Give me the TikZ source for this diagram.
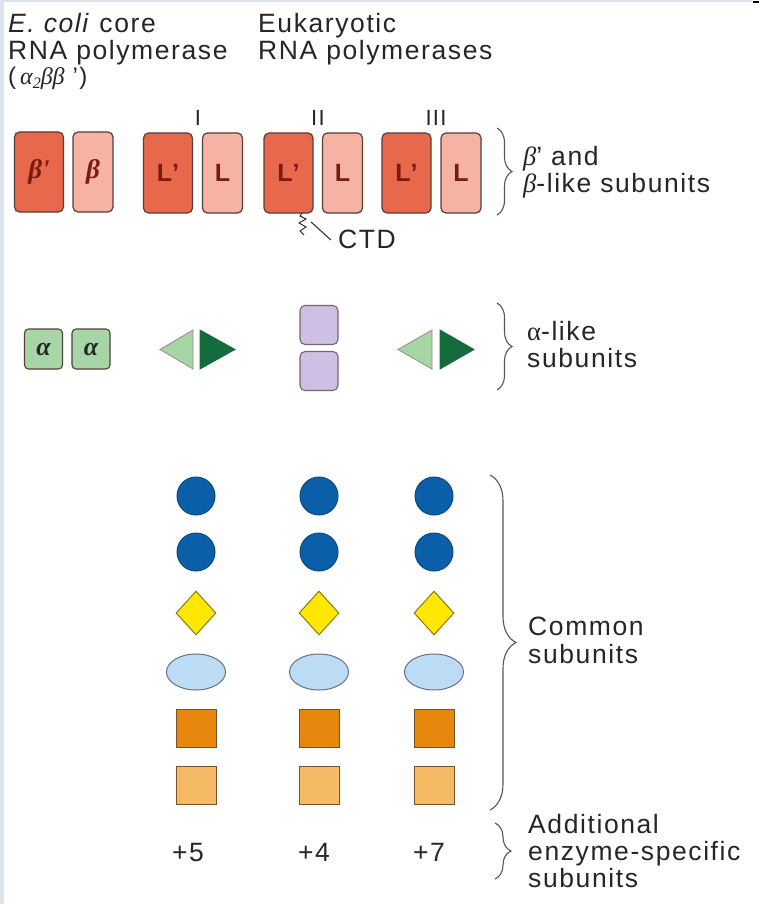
\documentclass[tikz,border=0pt]{standalone}
\usepackage{fontspec}
\setmainfont{Liberation Sans}[LetterSpace=6]
\newfontfamily\gk{Liberation Serif}
\usetikzlibrary{shapes.geometric,decorations.pathreplacing}
\definecolor{redD}{HTML}{E8684C}
\definecolor{redL}{HTML}{F6B3A3}
\definecolor{boxline}{HTML}{5A3C38}
\definecolor{lblred}{HTML}{7A1A10}
\definecolor{grA}{HTML}{A6D6A6}
\definecolor{grD}{HTML}{146C3C}
\definecolor{purp}{HTML}{CEC0E4}
\definecolor{blueC}{HTML}{0B5EA8}
\definecolor{blueB}{HTML}{0A4A86}
\definecolor{yel}{HTML}{FFE700}
\definecolor{yelB}{HTML}{8A7A10}
\definecolor{ellB}{HTML}{BCDCF6}
\definecolor{ellE}{HTML}{66708A}
\definecolor{orD}{HTML}{E8870E}
\definecolor{orL}{HTML}{F6B964}
\definecolor{orB}{HTML}{7A5228}
\definecolor{txt}{HTML}{262626}
\definecolor{brc}{HTML}{555555}
\definecolor{edgeC}{HTML}{DCE5EF}
\newcommand\sbs[1]{\raisebox{-4pt}{\fontsize{16}{16}\selectfont #1}}
\begin{document}
\begin{tikzpicture}[x=1pt,y=-1pt,
  lbl/.style={font=\fontsize{26.5}{28}\selectfont, text=txt, anchor=base west, inner sep=0pt},
  num/.style={font=\fontsize{22}{24}\selectfont, text=txt, inner sep=0pt},
  boxD/.style={draw=boxline, fill=redD, rounded corners=5pt, minimum width=49pt, minimum height=80pt, inner sep=0pt, line width=1.2pt, text=lblred, font=\fontsize{25}{25}\selectfont\bfseries},
  boxL/.style={boxD, fill=redL, minimum width=40pt},
  abox/.style={draw=boxline, fill=grA, rounded corners=4pt, minimum width=38pt, minimum height=40pt, inner sep=0pt, line width=1.1pt, text=txt},
  pbox/.style={draw=boxline!70!purp, fill=purp, rounded corners=5pt, minimum width=38pt, minimum height=39pt, inner sep=0pt, line width=1.1pt},
  circ/.style={circle, draw=blueB, fill=blueC, minimum size=38pt, inner sep=0pt, line width=1pt},
  dia/.style={diamond, draw=yelB, fill=yel, minimum width=40pt, minimum height=44pt, inner sep=0pt, line width=1pt},
  ell/.style={ellipse, draw=ellE, fill=ellB, minimum width=59pt, minimum height=36pt, inner sep=0pt, line width=1pt},
  sqD/.style={rectangle, draw=orB, fill=orD, minimum width=40pt, minimum height=38pt, inner sep=0pt, line width=1pt},
  sqL/.style={sqD, fill=orL},
  triL/.style={fill=grA, draw=boxline!60, line width=0.8pt},
  triD/.style={fill=grD, draw=grD, line width=0.8pt},
  brace/.style={decorate, draw=brc, line width=1.1pt},
  thin/.style={draw=txt, line width=1pt}
]
\useasboundingbox (0,0) rectangle (759,904);
\fill[white] (0,0) rectangle (759,904);
\fill[edgeC] (0,0) rectangle (3.5,904);
\fill[edgeC] (0,0) rectangle (753,2.5);
\fill[black] (753,1) rectangle (759,3);

% titles
\node[lbl] (t1) at (8,33) {\textit{E. coli} core};
\node[lbl] (t2) at (8,60) {RNA polymerase};
\node[lbl, font=\fontsize{24}{24}\selectfont] (t3) at (8,85) {(\,{\gk\itshape α\sbs{2}ββ}\,\,')};
\node[lbl] (t4) at (258,33) {Eukaryotic};
\node[lbl] (t5) at (258,60) {RNA polymerases};

% roman numerals
\node[num] (n1) at (198,118) {I};
\node[num] (n2) at (318,118) {II};
\node[num] (n3) at (436,118) {III};

% beta-like boxes
\node[boxD] (bp) at (39,172) {\fontsize{27}{27}\selectfont\gk\itshape\bfseries β'};
\node[boxL] (b)  at (93,172) {\fontsize{27}{27}\selectfont\gk\itshape\bfseries β};
\node[boxD] (l1p) at (168,173) {L'};
\node[boxL] (l1)  at (222.5,173) {L};
\node[boxD] (l2p) at (288.5,173) {L'};
\node[boxL] (l2)  at (342.5,173) {L};
\node[boxD] (l3p) at (406.5,173) {L'};
\node[boxL] (l3)  at (461,173) {L};

% CTD
\coordinate (sq0) at (302,213);
\draw[thin, line width=0.9pt] (sq0) -- (300,216) -- (306,219) -- (299,223) -- (306,227) -- (300,231) -- (304,235);
\coordinate (ctdl) at (311,222);
\node[lbl, anchor=west] (ctd) at (338,239) {CTD};
\draw[thin] (ctdl) -- ([xshift=-7pt,yshift=-1pt]ctd.west);

% brace 1
\draw[brace, decoration={brace, amplitude=15pt}] (497,128) -- (497,215);
\node[lbl] (r1a) at (523,166) {{\gk\itshape β}' and};
\node[lbl] (r1b) at (523,193) {{\gk\itshape β}-like subunits};

% alpha-like
\node[abox] (a1) at (43.5,349) {\fontsize{26}{26}\selectfont\gk\itshape\bfseries α};
\node[abox] (a2) at (91,349) {\fontsize{26}{26}\selectfont\gk\itshape\bfseries α};
\filldraw[triL] (193,330) -- (193,369) -- (160,349.5) -- cycle;
\filldraw[triD] (200,330) -- (200,369) -- (235,349.5) -- cycle;
\node[pbox] (p1) at (319,325) {};
\node[pbox] (p2) at (319,371) {};
\filldraw[triL] (432,330) -- (432,369) -- (398,349.5) -- cycle;
\filldraw[triD] (440,330) -- (440,369) -- (474,349.5) -- cycle;
\draw[brace, decoration={brace, amplitude=15pt}] (497,303) -- (497,390);
\node[lbl] (r2a) at (527,340) {{\gk α}-like};
\node[lbl] (r2b) at (527,367) {subunits};

% common subunits
\foreach \c/\x in {1/196, 2/319, 3/434} {
  \node[circ] (ca\c) at (\x,496) {};
  \node[circ] (cb\c) at (\x,552) {};
  \node[dia]  (d\c)  at (\x,613) {};
  \node[ell]  (e\c)  at (\x,672) {};
  \node[sqD]  (s\c)  at (\x,728) {};
  \node[sqL]  (q\c)  at (\x,785) {};
}
\draw[brace, decoration={brace, amplitude=26pt}] (490,475) -- (490,810);
\node[lbl] (r3a) at (528,635) {Common};
\node[lbl] (r3b) at (528,663) {subunits};

% additional
\node[lbl, anchor=base] (p5) at (188,861) {+5};
\node[lbl, anchor=base] (p4) at (314,861) {+4};
\node[lbl, anchor=base] (p7) at (429,861) {+7};
\draw[brace, decoration={brace, amplitude=16pt}] (495,823) -- (495,879);
\node[lbl] (r4a) at (528,833) {Additional};
\node[lbl] (r4b) at (528,860) {enzyme-specific};
\node[lbl] (r4c) at (528,887) {subunits};
\end{tikzpicture}
\end{document}
